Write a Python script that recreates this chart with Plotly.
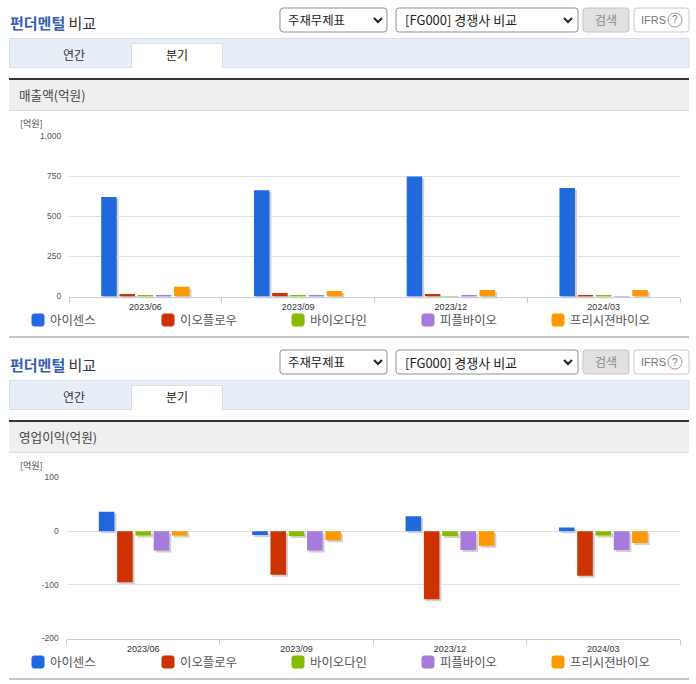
import plotly.graph_objects as go

W = 696
H = 684

periods = ['2023/06', '2023/09', '2023/12', '2024/03']
names = ['아이센스', '이오플로우', '바이오다인', '피플바이오', '프리시젼바이오']
colors = ['#2068DC', '#CC3300', '#88BB00', '#A67BDB', '#FF9900']

# 매출액
rev_isens = [620, 662, 748, 676]
rev_eoflow = [15, 22, 15, 8]
rev_biodyne = [8, 7, 2, 8]
rev_people = [7, 6, 6, 2]
rev_precision = [60, 34, 40, 40]
rev_ticks = [0, 250, 500, 750, 1000]
rev_ticktext = ['0', '250', '500', '750', '1,000']

# 영업이익
op_isens = [36, -7, 28, 7]
op_eoflow = [-95, -81, -127, -83]
op_biodyne = [-8, -9, -9, -8]
op_people = [-36, -36, -35, -35]
op_precision = [-8, -17, -27, -22]
op_ticks = [-200, -100, 0, 100]
op_ticktext = ['-200', '-100', '0', '100']

revenue = [rev_isens, rev_eoflow, rev_biodyne, rev_people, rev_precision]
op_profit = [op_isens, op_eoflow, op_biodyne, op_people, op_precision]

KR = 'Noto Sans CJK KR'
TICK = 'Liberation Sans, Noto Sans CJK KR'
SHADOW = 'rgba(110,110,110,0.32)'
GRID = '#dfe1e4'
AXIS = '#c0d0e0'

shapes = []
annotations = []


def px(x):
    return x / W


def py(y):
    return 1 - y / H


def rect(x0, y0, x1, y1, fill, line=None):
    shapes.append(dict(type='rect', xref='paper', yref='paper', layer='below',
                       x0=px(x0), x1=px(x1), y0=py(y0), y1=py(y1), fillcolor=fill,
                       line=dict(color=line or 'rgba(0,0,0,0)', width=1 if line else 0)))


def round_box(x0, y0, x1, y1, fill, line, r=3):
    path = (f'M {px(x0 + r)} {py(y0)} L {px(x1 - r)} {py(y0)} Q {px(x1)} {py(y0)} {px(x1)} {py(y0 + r)} '
            f'L {px(x1)} {py(y1 - r)} Q {px(x1)} {py(y1)} {px(x1 - r)} {py(y1)} '
            f'L {px(x0 + r)} {py(y1)} Q {px(x0)} {py(y1)} {px(x0)} {py(y1 - r)} '
            f'L {px(x0)} {py(y0 + r)} Q {px(x0)} {py(y0)} {px(x0 + r)} {py(y0)} Z')
    shapes.append(dict(type='path', xref='paper', yref='paper', layer='below', path=path,
                       fillcolor=fill, line=dict(color=line, width=1)))


def chevron(x, y):
    path = f'M {px(x - 4)} {py(y - 2)} L {px(x)} {py(y + 2)} L {px(x + 4)} {py(y - 2)}'
    shapes.append(dict(type='path', xref='paper', yref='paper', path=path,
                       line=dict(color='#222222', width=2)))


def text(x, y, s, size=12, color='#333333', anchor='left', family=KR):
    annotations.append(dict(xref='paper', yref='paper', x=px(x), y=py(y), text=s, showarrow=False,
                            xanchor=anchor, yanchor='middle', align=anchor, borderpad=0, borderwidth=0,
                            font=dict(family=family, size=size, color=color)))


def panel(top, title):
    # top bar with the selects
    text(10, top + 23, '<span style="color:#3560B0"><b>펀더멘털</b></span> 비교', size=15, color='#333333')
    round_box(280, top + 8, 387, top + 32, '#ffffff', '#8f8f8f')
    text(288, top + 20, '주재무제표', size=12.4, color='#222222')
    chevron(378, top + 20)
    round_box(396, top + 8, 578, top + 32, '#ffffff', '#8f8f8f')
    text(405, top + 20, '[FG000] 경쟁사 비교', size=13, color='#222222')
    chevron(568, top + 20)
    round_box(583, top + 8, 629, top + 32, '#e1e1e1', '#c4c4c4')
    text(606, top + 19, '검색', size=12, color='#8a8a8a', anchor='center')
    round_box(634, top + 8, 689, top + 32, '#ffffff', '#c8c8c8')
    text(641, top + 20, 'IFRS', size=11, color='#777777', family=TICK)
    shapes.append(dict(type='circle', xref='paper', yref='paper', x0=px(668), x1=px(682),
                       y0=py(top + 27), y1=py(top + 13), line=dict(color='#999999', width=1)))
    text(675, top + 20, '?', size=10, color='#777777', anchor='center', family=TICK)

    # tabs
    rect(9.5, top + 38.5, 689, top + 67.5, '#e8eef7', '#d6deea')
    rect(131.5, top + 43.5, 222.5, top + 68, '#ffffff', '#d6deea')
    rect(132, top + 66, 222, top + 69, '#ffffff')
    text(74, top + 54, '연간', size=12, color='#333333', anchor='center')
    text(177, top + 54, '분기', size=12, color='#222222', anchor='center')

    # heading of the chart
    rect(9, top + 80, 689, top + 110, '#efefef')
    rect(9, top + 78, 689, top + 80, '#333333')
    rect(9, top + 110, 689, top + 111, '#dddddd')
    text(19, top + 95, title, size=12.6, color='#444444')
    text(20, top + 123, '[억원]', size=9, color='#444444')

    # legend
    for i, name in enumerate(names):
        x = 32 + 130 * i
        round_box(x, top + 314, x + 12, top + 326, colors[i], colors[i], r=2)
        text(x + 18, top + 320, name, size=12.4, color='#555555')
    rect(9, top + 336, 689, top + 338, '#c8c8c8')


panel(0, '매출액(억원)')
panel(342, '영업이익(억원)')

fig = go.Figure()


def bars(values, xa, ya, shadow):
    for i, name in enumerate(names):
        fig.add_trace(go.Bar(x=periods, y=values[i], name=name, xaxis=xa, yaxis=ya, showlegend=False,
                             marker=dict(color=SHADOW if shadow else colors[i], line=dict(width=0)),
                             hoverinfo='skip' if shadow else None))


# the shadow bars sit on their own axes, 2px right and down of the real ones
bars(revenue, 'x', 'y', True)
bars(revenue, 'x2', 'y2', False)
bars(op_profit, 'x3', 'y3', True)
bars(op_profit, 'x4', 'y4', False)


def x_axis(x0, x1, anchor, visible):
    return dict(domain=[px(x0), px(x1)], anchor=anchor, type='category', visible=visible,
                showgrid=False, showline=visible, linecolor=AXIS, linewidth=1,
                ticks='outside', ticklen=5, tickcolor=AXIS, tickson='boundaries', ticklabelstandoff=2,
                tickfont=dict(family=TICK, size=9, color='#333333'), zeroline=False)


def y_axis(y0, y1, anchor, visible, lo, hi, vals, labels):
    return dict(domain=[py(y1), py(y0)], anchor=anchor, range=[lo, hi], visible=visible,
                tickmode='array', tickvals=vals, ticktext=labels,
                showgrid=visible, gridcolor=GRID, gridwidth=1, zeroline=False,
                showline=False, ticks='outside', ticklen=5, tickcolor='rgba(0,0,0,0)',
                tickfont=dict(family=TICK, size=8.5, color='#555555'))


fig.update_layout(
    width=W, height=H, autosize=False,
    margin=dict(l=0, r=0, t=0, b=0, pad=0, autoexpand=False),
    paper_bgcolor='#ffffff', plot_bgcolor='rgba(0,0,0,0)',
    barmode='group', bargap=0.404, bargroupgap=0.148,
    xaxis=x_axis(71, 682, 'y', False),
    yaxis=y_axis(138, 298.5, 'x', False, 0, 1000, rev_ticks, rev_ticktext),
    xaxis2=x_axis(69, 680, 'y2', True),
    yaxis2=y_axis(136, 296.5, 'x2', True, 0, 1000, rev_ticks, rev_ticktext),
    xaxis3=x_axis(68.5, 682, 'y3', False),
    yaxis3=y_axis(479.5, 640.5, 'x3', False, -200, 100, op_ticks, op_ticktext),
    xaxis4=x_axis(66.5, 680, 'y4', True),
    yaxis4=y_axis(477.5, 638.5, 'x4', True, -200, 100, op_ticks, op_ticktext),
    shapes=shapes, annotations=annotations,
)

fig.write_html('out.html', config=dict(displayModeBar=False),
               post_script="document.body.style.margin='0';document.body.style.overflow='hidden';")
